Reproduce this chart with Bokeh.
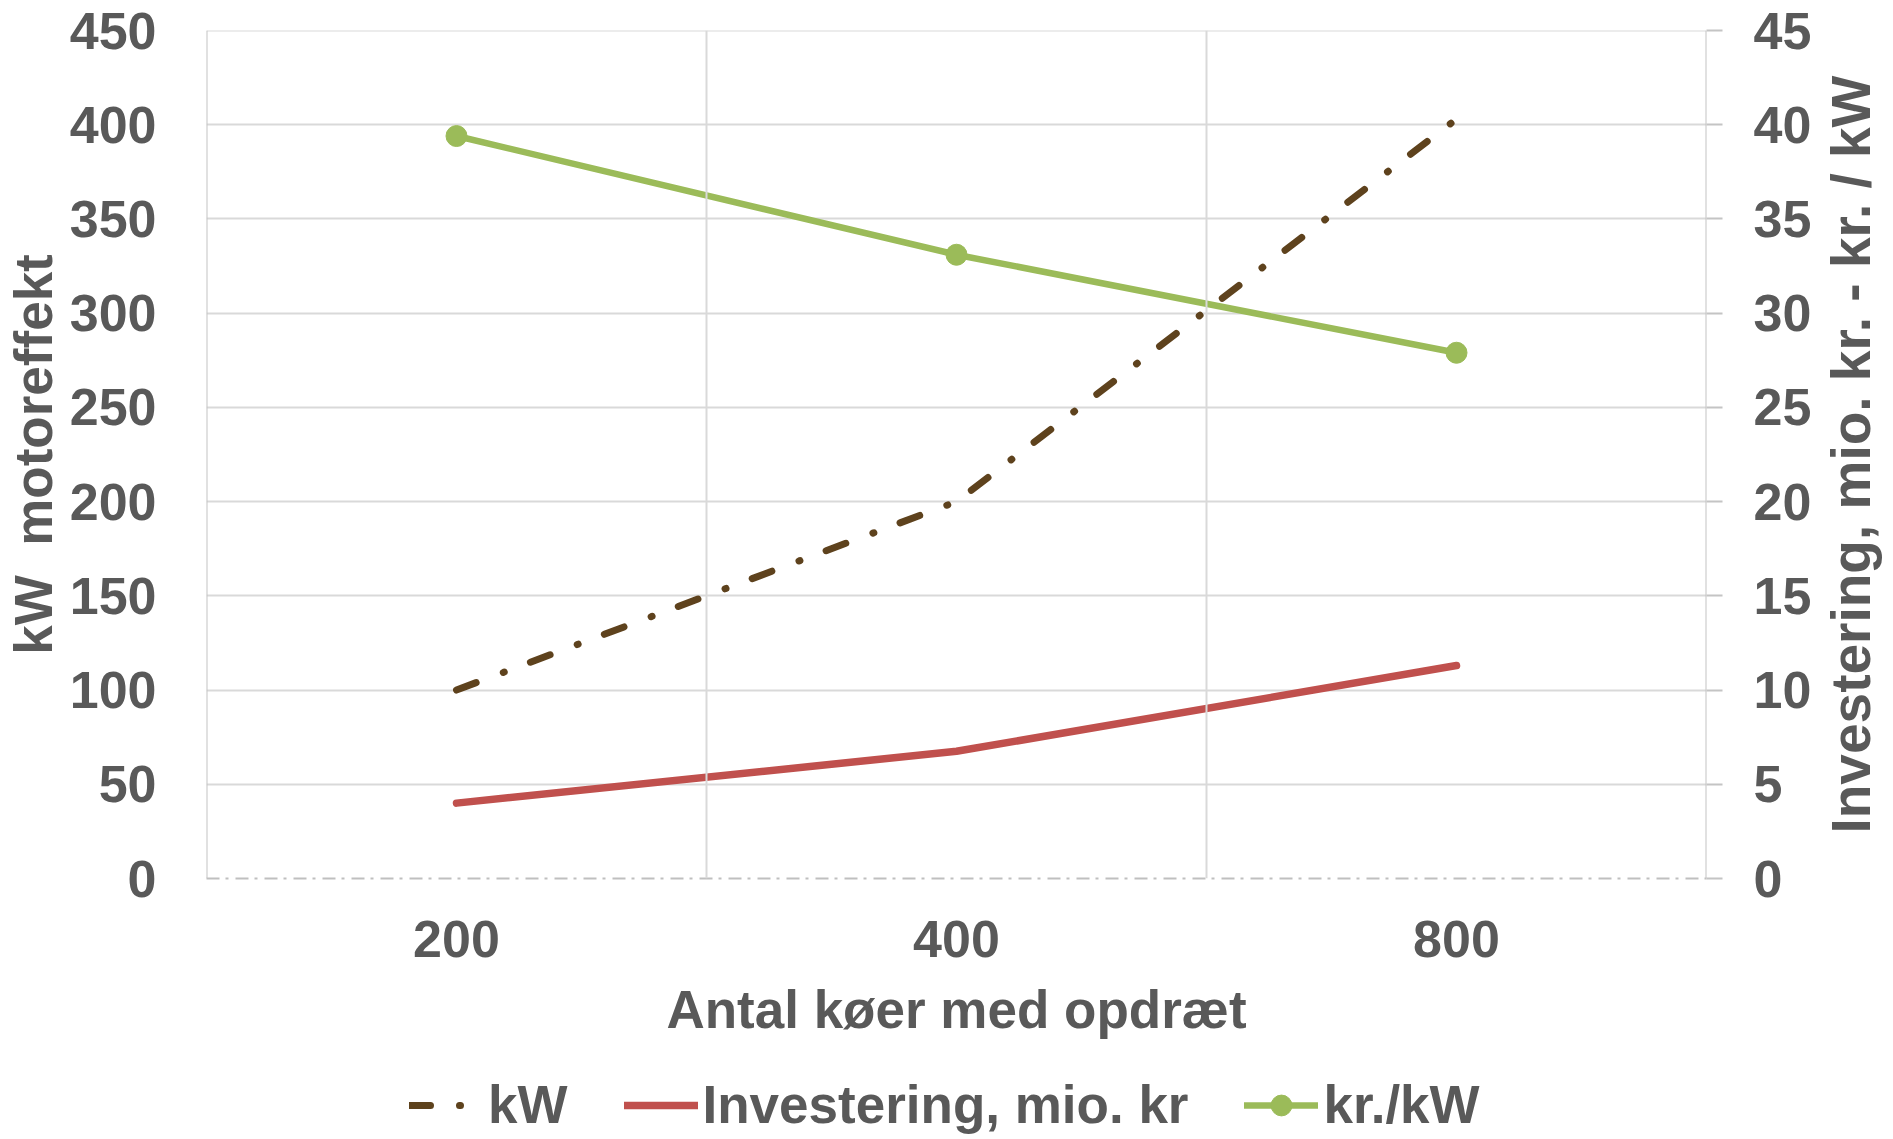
import math
from bokeh.plotting import figure
from bokeh.layouts import column, row
from bokeh.models import Range1d, LinearAxis, FixedTicker, Span, Legend, LegendItem, FactorRange, Title
from bokeh.embed import file_html
from bokeh.resources import INLINE

# ---- data ----
categories = ["200", "400", "800"]
kw_values = [100, 200, 403]            # left axis: kW motoreffekt
investering = [4.0, 6.75, 11.3]        # right axis: Investering, mio. kr
kr_per_kw = [39.4, 33.1, 27.9]         # right axis: kr./kW
left_ticks = [0, 50, 100, 150, 200, 250, 300, 350, 400, 450]
right_ticks = [0, 5, 10, 15, 20, 25, 30, 35, 40, 45]
x_title = "Antal køer med opdræt"
left_title = "kW\u00a0 motoreffekt"
right_title = "Investering, mio. kr. - kr. / kW"
legend_labels = ["kW", "Investering, mio. kr", "kr./kW"]

FONT = "Liberation Sans"
TXT = "#595959"
FS_TICK = "52px"
FS_TITLE = "53px"
FS_RTITLE = "55px"
FS_LEG = "53px"
BROWN = "#5E421D"
RED = "#C0504D"
GREEN = "#9BBB59"
GRID = "#D9D9D9"
BORDER = "#C4C4C4"
KW_DASH = "21 29 1 28"

W_TOTAL, H_TOTAL = 1893, 1139
W_MAIN, H_MAIN = 1819, 1070
W_RIGHT = W_TOTAL - W_MAIN
H_LEG = H_TOTAL - H_MAIN
FRAME_TOP, FRAME_BOTTOM, FRAME_LEFT, FRAME_RIGHT = 30, 878, 201, 1706

p = figure(width=W_MAIN, height=H_MAIN,
           x_range=FactorRange(factors=categories, range_padding=0),
           y_range=Range1d(left_ticks[0], left_ticks[-1]),
           output_backend="svg", toolbar_location=None,
           min_border_left=FRAME_LEFT, min_border_right=W_MAIN - FRAME_RIGHT,
           min_border_top=FRAME_TOP, min_border_bottom=H_MAIN - FRAME_BOTTOM,
           x_axis_label=x_title, y_axis_label=left_title)
p.outline_line_color = None
p.extra_y_ranges = {"right": Range1d(right_ticks[0], right_ticks[-1])}

# grids and frame lines
p.xgrid.visible = False
p.ygrid.ticker = FixedTicker(ticks=left_ticks)
p.ygrid.grid_line_color = GRID
p.ygrid.grid_line_width = 2
p.add_layout(Span(location=left_ticks[-1], dimension="width", line_color=GRID, line_width=2))
for loc in [1, 2]:
    p.add_layout(Span(location=loc, dimension="height", line_color=GRID, line_width=2))
for loc in [0, 3]:
    p.add_layout(Span(location=loc, dimension="height", line_color=BORDER, line_width=2))

def style_axis(ax):
    ax.major_label_text_font = FONT
    ax.major_label_text_font_style = "bold"
    ax.major_label_text_font_size = FS_TICK
    ax.major_label_text_color = TXT
    ax.axis_label_text_font = FONT
    ax.axis_label_text_font_style = "bold"
    ax.axis_label_text_font_size = FS_TITLE
    ax.axis_label_text_color = TXT
    ax.minor_tick_line_color = None

# left axis
ly = p.yaxis[0]
ly.ticker = FixedTicker(ticks=left_ticks)
style_axis(ly)
ly.axis_line_color = None
ly.major_tick_line_color = None
ly.major_tick_out = 0
ly.major_tick_in = 0
ly.major_label_standoff = 50
ly.axis_label_standoff = 4

# right axis (its title is drawn in the strip at the right)
ry = LinearAxis(y_range_name="right", ticker=FixedTicker(ticks=right_ticks))
style_axis(ry)
ry.axis_line_color = None
ry.major_tick_line_color = BORDER
ry.major_tick_line_width = 2
ry.major_tick_out = 16
ry.major_tick_in = 0
ry.major_label_standoff = 31
p.add_layout(ry, "right")

# bottom axis
bx = p.xaxis[0]
style_axis(bx)
bx.axis_line_color = "#BFBFBF"
bx.axis_line_width = 2
bx.axis_line_dash = "13 6 3 7"
bx.major_tick_line_color = None
bx.major_tick_out = 0
bx.major_tick_in = 0
bx.major_label_standoff = 42
bx.axis_label_standoff = 20

# series
def add_series(fig, visible=True):
    r1 = fig.line(categories, kw_values, line_color=BROWN, line_width=7,
                  line_dash=KW_DASH, line_cap="round", visible=visible)
    r2 = fig.line(categories, investering, y_range_name="right", line_color=RED,
                  line_width=7.5, line_cap="round", visible=visible)
    r3 = fig.line(categories, kr_per_kw, y_range_name="right", line_color=GREEN,
                  line_width=6.5, line_cap="round", visible=visible)
    r4 = fig.scatter(categories, kr_per_kw, y_range_name="right", marker="circle",
                     size=21, fill_color=GREEN, line_color=GREEN, visible=visible)
    return r1, r2, r3, r4

add_series(p)

# right title strip (text reads bottom to top)
pr = figure(width=W_RIGHT, height=H_MAIN, x_range=Range1d(0, 1), y_range=Range1d(0, 1),
            output_backend="svg", toolbar_location=None,
            min_border_left=0, min_border_right=0, min_border_top=0,
            min_border_bottom=H_MAIN - 2 * 455,
            x_axis_location=None, y_axis_location=None)
pr.outline_line_color = None
pr.grid.visible = False
pr.add_layout(Title(text=right_title, align="center", vertical_align="middle",
                    standoff=-1, text_font=FONT, text_font_style="bold",
                    text_font_size=FS_RTITLE, text_color=TXT), "left")

# legend strip
pl = figure(width=W_TOTAL, height=H_LEG,
            x_range=FactorRange(factors=categories, range_padding=0),
            y_range=Range1d(left_ticks[0], left_ticks[-1]),
            output_backend="svg", toolbar_location=None, min_border=0,
            x_axis_location=None, y_axis_location=None)
pl.extra_y_ranges = {"right": Range1d(right_ticks[0], right_ticks[-1])}
pl.outline_line_color = None
pl.grid.visible = False
g_kw, g_inv, g_krl, g_krm = add_series(pl, visible=False)
legend = Legend(items=[LegendItem(label=legend_labels[0], renderers=[g_kw]),
                       LegendItem(label=legend_labels[1], renderers=[g_inv]),
                       LegendItem(label=legend_labels[2], renderers=[g_krl, g_krm])],
                orientation="horizontal", location=(409, 4))
legend.background_fill_alpha = 0
legend.border_line_color = None
legend.inactive_fill_alpha = 0
legend.padding = 0
legend.margin = 0
legend.spacing = 56
legend.label_standoff = 5
legend.glyph_width = 74
legend.glyph_height = 52
legend.label_text_font = FONT
legend.label_text_font_style = "bold"
legend.label_text_font_size = FS_LEG
legend.label_text_color = TXT
pl.add_layout(legend, "center")

layout = column(row(p, pr), pl)
open("out.html", "w").write(file_html(layout, INLINE))
